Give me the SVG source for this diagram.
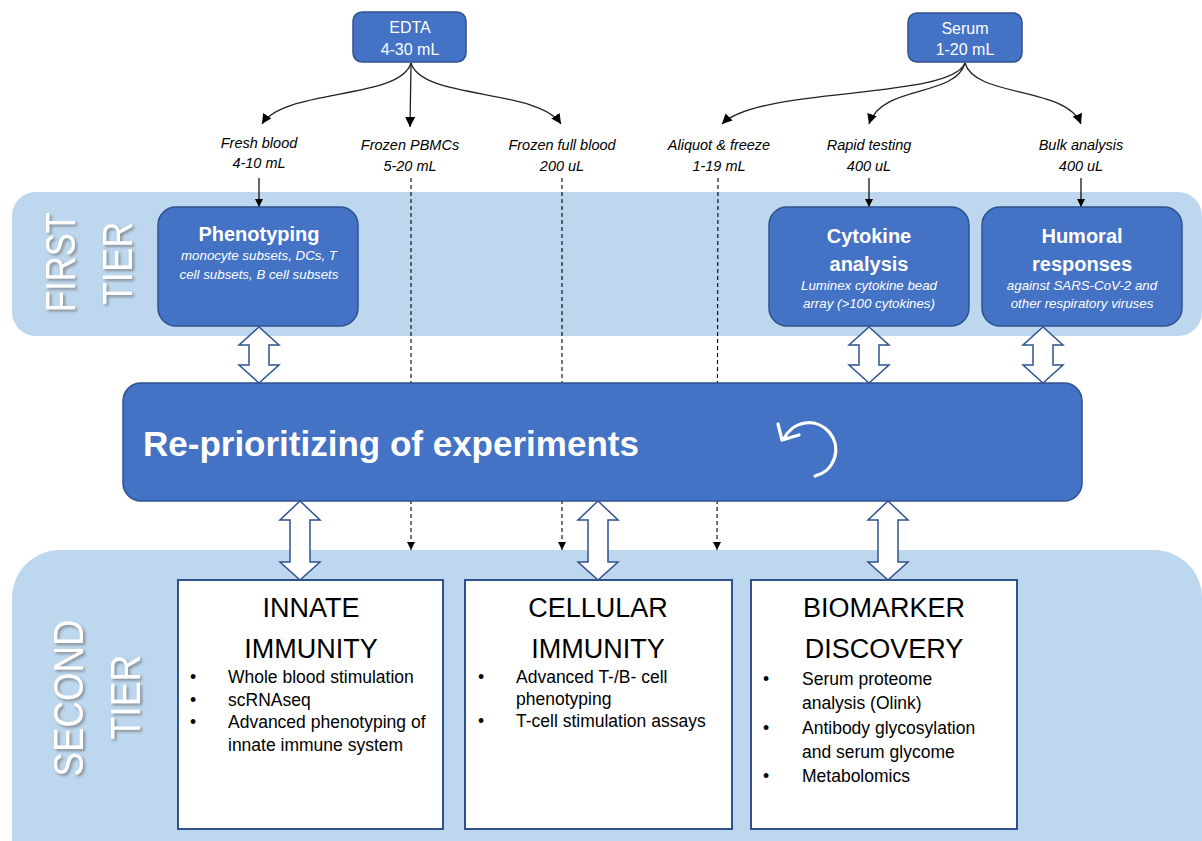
<svg xmlns="http://www.w3.org/2000/svg" width="1202" height="841" viewBox="0 0 1202 841">
<style>
.band{fill:#BDD7EE}
.bb{fill:#4472C4;stroke:#2F528F;stroke-width:1.5}
.wb{fill:#FFFFFF;stroke:#2F528F;stroke-width:2}
.blk{fill:#FFFFFF;stroke:#2F528F;stroke-width:1.5;stroke-linejoin:miter}
.t{font-family:"Liberation Sans",Arial,sans-serif}
.wt{fill:#FFFFFF}
.lbl{font-family:"Liberation Sans",Arial,sans-serif;font-style:italic;font-size:14.5px;fill:#000;text-anchor:middle}
.ttl{font-family:"Liberation Sans",Arial,sans-serif;font-weight:bold;font-size:20px;fill:#FFF;text-anchor:middle}
.sub{font-family:"Liberation Sans",Arial,sans-serif;font-style:italic;font-size:13.3px;fill:#FFF;text-anchor:middle}
.h2{font-family:"Liberation Sans",Arial,sans-serif;font-size:27px;fill:#000;text-anchor:middle}
.li{font-family:"Liberation Sans",Arial,sans-serif;font-size:17.5px;fill:#000}
.tier{font-family:"Liberation Sans",Arial,sans-serif;font-size:42px;fill:#FFF;text-anchor:middle}
.cv{fill:none;stroke:#222;stroke-width:1.3}
.sl{fill:none;stroke:#000;stroke-width:1.2}
.dl{fill:none;stroke:#000;stroke-width:1.1;stroke-dasharray:4,3}
</style>
<defs>
<marker id="ah" markerUnits="userSpaceOnUse" markerWidth="12" markerHeight="12" refX="10" refY="5" orient="auto">
<path d="M0,0 L10,5 L0,10 Z" fill="#000"/>
</marker>
<marker id="ahs" markerUnits="userSpaceOnUse" markerWidth="10" markerHeight="10" refX="8" refY="4" orient="auto">
<path d="M0,0 L8,4 L0,8 Z" fill="#000"/>
</marker>
<filter id="sh" x="-20%" y="-20%" width="140%" height="140%">
<feDropShadow dx="2" dy="2" stdDeviation="1.5" flood-color="#6d6d6d" flood-opacity="0.7"/>
</filter>
</defs>

<!-- tier bands -->
<g id="first-tier-band">
<rect class="band" x="12" y="192" width="1190" height="144" rx="24"/>
<g filter="url(#sh)">
<text class="tier" transform="translate(75,262) rotate(-90)" textLength="100" lengthAdjust="spacingAndGlyphs">FIRST</text>
<text class="tier" transform="translate(132,263) rotate(-90)" textLength="83" lengthAdjust="spacingAndGlyphs">TIER</text>
</g>
</g>
<g id="second-tier-band">
<rect class="band" x="12" y="550" width="1190" height="340" rx="48"/>
<g filter="url(#sh)">
<text class="tier" transform="translate(83,698) rotate(-90)" textLength="157" lengthAdjust="spacingAndGlyphs">SECOND</text>
<text class="tier" transform="translate(140,697) rotate(-90)" textLength="85" lengthAdjust="spacingAndGlyphs">TIER</text>
</g>
</g>

<!-- connectors -->
<g id="connectors">
<path class="cv" d="M411,63 C400,100 285,88 262,124" marker-end="url(#ah)"/>
<path class="cv" d="M411,63 L410,127" marker-end="url(#ah)"/>
<path class="cv" d="M411,63 C422,100 537,88 561,124" marker-end="url(#ah)"/>
<path class="cv" d="M965,63 C950,100 760,86 722,124" marker-end="url(#ah)"/>
<path class="cv" d="M965,63 C955,98 882,84 869,124" marker-end="url(#ah)"/>
<path class="cv" d="M965,63 C975,98 1066,86 1081,124" marker-end="url(#ah)"/>
<path class="sl" d="M259,178 L259,207" marker-end="url(#ahs)"/>
<path class="sl" d="M869,178 L869,207" marker-end="url(#ahs)"/>
<path class="sl" d="M1081,178 L1081,207" marker-end="url(#ahs)"/>
<path class="dl" d="M411,178 L411,550" marker-end="url(#ahs)"/>
<path class="dl" d="M562,178 L562,550" marker-end="url(#ahs)"/>
<path class="dl" d="M718,178 L717,550" marker-end="url(#ahs)"/>
</g>

<!-- top source nodes -->
<g id="edta">
<rect class="bb" x="353" y="12" width="113" height="50" rx="9"/>
<text class="t wt" x="410" y="33" font-size="16" text-anchor="middle">EDTA</text>
<text class="t wt" x="410" y="55" font-size="16" text-anchor="middle">4-30 mL</text>
</g>
<g id="serum">
<rect class="bb" x="908" y="13" width="114" height="49" rx="9"/>
<text class="t wt" x="965" y="34" font-size="16" text-anchor="middle">Serum</text>
<text class="t wt" x="965" y="55" font-size="16" text-anchor="middle">1-20 mL</text>
</g>

<!-- sample labels -->
<g id="label-fresh"><text class="lbl" x="259" y="148">Fresh blood</text><text class="lbl" x="259" y="168">4-10 mL</text></g>
<g id="label-pbmc"><text class="lbl" x="410" y="150">Frozen PBMCs</text><text class="lbl" x="410" y="171">5-20 mL</text></g>
<g id="label-full"><text class="lbl" x="562" y="150">Frozen full blood</text><text class="lbl" x="562" y="171">200 uL</text></g>
<g id="label-aliquot"><text class="lbl" x="719" y="150">Aliquot &amp; freeze</text><text class="lbl" x="719" y="171">1-19 mL</text></g>
<g id="label-rapid"><text class="lbl" x="869" y="150">Rapid testing</text><text class="lbl" x="869" y="171">400 uL</text></g>
<g id="label-bulk"><text class="lbl" x="1081" y="150">Bulk analysis</text><text class="lbl" x="1081" y="171">400 uL</text></g>

<!-- first tier nodes -->
<g id="phenotyping">
<rect class="bb" x="158" y="207" width="200" height="119" rx="18"/>
<text class="ttl" x="259" y="241">Phenotyping</text>
<text class="sub" x="259" y="260">monocyte subsets, DCs, T</text>
<text class="sub" x="259" y="279">cell subsets, B cell subsets</text>
</g>
<g id="cytokine">
<rect class="bb" x="769" y="207" width="200" height="119" rx="18"/>
<text class="ttl" x="869" y="243">Cytokine</text>
<text class="ttl" x="869" y="271">analysis</text>
<text class="sub" x="869" y="290">Luminex cytokine bead</text>
<text class="sub" x="869" y="308">array (&gt;100 cytokines)</text>
</g>
<g id="humoral">
<rect class="bb" x="982" y="207" width="200" height="119" rx="18"/>
<text class="ttl" x="1082" y="243">Humoral</text>
<text class="ttl" x="1082" y="271">responses</text>
<text class="sub" x="1082" y="290">against SARS-CoV-2 and</text>
<text class="sub" x="1082" y="308">other respiratory viruses</text>
</g>

<!-- central node -->
<g id="reprioritizing">
<rect class="bb" x="123" y="383" width="959" height="118" rx="18"/>
<text class="t wt" x="143" y="456" font-size="35" font-weight="bold">Re-prioritizing of experiments</text>
<path d="M815,476 A27,27 0 1 0 784,439" fill="none" stroke="#FFF" stroke-width="3.2" stroke-linecap="round"/>
<path d="M778,424 L782,440 L799,435" fill="none" stroke="#FFF" stroke-width="3.2" stroke-linecap="round" stroke-linejoin="round"/>
</g>

<!-- block double arrows -->
<g id="block-arrows">
<polygon class="blk" points="259,327 279,345 269,345 269,365 279,365 259,383 239,365 249,365 249,345 239,345"/>
<polygon class="blk" points="869,327 889,345 879,345 879,365 889,365 869,383 849,365 859,365 859,345 849,345"/>
<polygon class="blk" points="1043,327 1063,345 1053,345 1053,365 1063,365 1043,383 1023,365 1033,365 1033,345 1023,345"/>
<polygon class="blk" points="300,501 320,520 310,520 310,562 320,562 300,580 280,562 290,562 290,520 280,520"/>
<polygon class="blk" points="598,501 618,520 608,520 608,562 618,562 598,580 578,562 588,562 588,520 578,520"/>
<polygon class="blk" points="888,501 908,520 898,520 898,562 908,562 888,580 868,562 878,562 878,520 868,520"/>
</g>

<!-- second tier nodes -->
<g id="innate">
<rect class="wb" x="178" y="580" width="265" height="249"/>
<text class="h2" x="311" y="617">INNATE</text>
<text class="h2" x="311" y="658">IMMUNITY</text>
<text class="li" x="190" y="683">•</text><text class="li" x="228" y="683">Whole blood stimulation</text>
<text class="li" x="190" y="706">•</text><text class="li" x="228" y="706">scRNAseq</text>
<text class="li" x="190" y="728">•</text><text class="li" x="228" y="728">Advanced phenotyping of</text>
<text class="li" x="228" y="751">innate immune system</text>
</g>
<g id="cellular">
<rect class="wb" x="465" y="580" width="267" height="249"/>
<text class="h2" x="598" y="617">CELLULAR</text>
<text class="h2" x="598" y="658">IMMUNITY</text>
<text class="li" x="478" y="683">•</text><text class="li" x="516" y="683">Advanced T-/B- cell</text>
<text class="li" x="516" y="705">phenotyping</text>
<text class="li" x="478" y="727">•</text><text class="li" x="516" y="727">T-cell stimulation assays</text>
</g>
<g id="biomarker">
<rect class="wb" x="751" y="580" width="266" height="249"/>
<text class="h2" x="884" y="617">BIOMARKER</text>
<text class="h2" x="884" y="658">DISCOVERY</text>
<text class="li" x="763" y="685">•</text><text class="li" x="802" y="685">Serum proteome</text>
<text class="li" x="802" y="709">analysis (Olink)</text>
<text class="li" x="763" y="734">•</text><text class="li" x="802" y="734">Antibody glycosylation</text>
<text class="li" x="802" y="758">and serum glycome</text>
<text class="li" x="763" y="782">•</text><text class="li" x="802" y="782">Metabolomics</text>
</g>
</svg>
